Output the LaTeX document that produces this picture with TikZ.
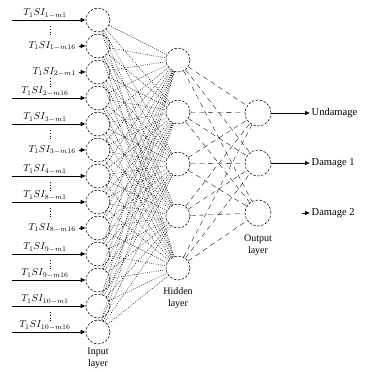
\documentclass[tikz,border=0pt]{standalone}
\usepackage{fontspec}
\setmainfont{Liberation Serif}
\usetikzlibrary{arrows.meta}
\begin{document}
\begin{tikzpicture}[x=1pt,y=-1pt,
  neuron/.style={circle,draw,dashed,dash pattern=on 2.5pt off 1.5pt,minimum size=24pt,inner sep=0pt,line width=0.55pt},
  outneuron/.style={neuron,minimum size=26pt},
  dotconn/.style={dash pattern=on 0.8pt off 1.4pt,line width=0.5pt},
  dashconn/.style={dash pattern=on 5pt off 4pt,line width=0.35pt},
  lab/.style={font=\fontsize{10}{11}\selectfont,inner sep=1pt},
  outlab/.style={font=\fontsize{10.5}{12}\selectfont,inner sep=1.5pt},
  arr/.style={-{Latex[length=5pt,width=4.5pt]},line width=0.6pt},
  vdots/.style={dotted,line width=0.8pt},
  layerlab/.style={font=\fontsize{10}{12}\selectfont,align=center,inner sep=0pt}
]
\useasboundingbox (0,0) rectangle (365,372);

% input layer
\foreach \i in {1,...,13}
  \node[neuron] (i\i) at (98,{20+26*(\i-1)}) {};
% hidden layer
\foreach \j in {1,...,5}
  \node[neuron] (h\j) at (178,{60+52*(\j-1)}) {};
% output layer
\node[outneuron] (o1) at (258,113) {};
\node[outneuron] (o2) at (258,163) {};
\node[outneuron] (o3) at (258,213) {};

% connections
\foreach \i in {1,...,13}
  \foreach \j in {1,...,5}
    \draw[dotconn] (i\i) -- (h\j);
\foreach \j in {1,...,5}
  \foreach \k in {1,2,3}
    \draw[dashconn] (h\j) -- (o\k);

% long input arrows (text above line)
\foreach \i/\t in {1/{1-m1},4/{2-m16},5/{3-m1},7/{4-m1},8/{8-m1},10/{9-m1},11/{9-m16},12/{10-m1},13/{10-m16}}{
  \coordinate (s\i) at (12,{20+26*(\i-1)});
  \draw[arr] (s\i) -- (i\i.west);
  \node[lab,anchor=south] (t\i) at (45,{20+26*(\i-1)-0.5}) {$T_1SI_{\t}$};
}
% short input arrows (arrowhead only)
\foreach \i/\t in {2/{1-m16},3/{2-m1},6/{3-m16},9/{8-m16}}{
  \coordinate (s\i) at (79,{20+26*(\i-1)});
  \draw[arr] (s\i) -- (i\i.west);
  \node[lab,anchor=east] (t\i) at (77,{20+26*(\i-1)}) {$T_1SI_{\t}$};
}

% vertical dots
\foreach \a in {1,3,5,7,8,10,12}
  \draw[vdots] (50,{20+26*(\a-1)+6}) -- (50,{20+26*(\a-1)+17});

% output arrows
\coordinate (e1) at (310,113);
\coordinate (e2) at (310,163);
\coordinate (e3a) at (302,213);
\coordinate (e3) at (310,213);
\draw[arr] (o1.east) -- (e1);
\draw[arr] (o2.east) -- (e2);
\draw[arr] (e3a) -- (e3);
\node[outlab,anchor=west] (l1) at (e1) {Undamage};
\node[outlab,anchor=west] (l2) at (e2) {Damage 1};
\node[outlab,anchor=west] (l3) at (e3) {Damage 2};

% layer labels
\node[layerlab] (il) at (98,358) {Input\\layer};
\node[layerlab] (hl) at (178,298) {Hidden\\layer};
\node[layerlab] (ol) at (258,245) {Output\\layer};
\end{tikzpicture}
\end{document}
